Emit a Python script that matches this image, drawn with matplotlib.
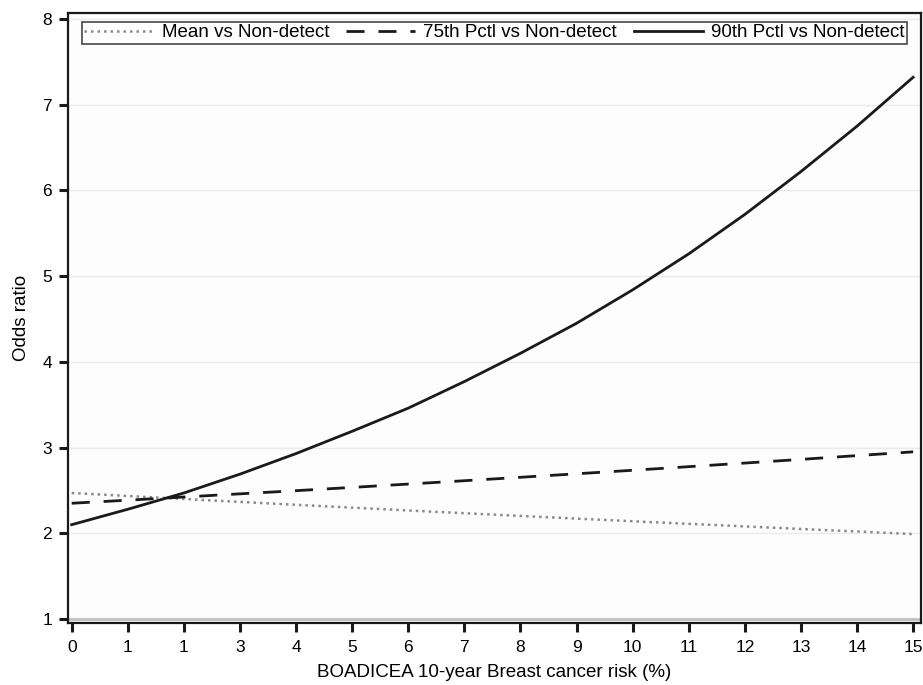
import matplotlib
matplotlib.use("Agg")
import matplotlib.pyplot as plt

plt.rcParams['font.family'] = ['Liberation Sans', 'DejaVu Sans']

risk = [0, 1, 2, 3, 4, 5, 6, 7, 8, 9, 10, 11, 12, 13, 14, 15]
x_tick_labels = ["0", "1", "1", "3", "4", "5", "6", "7", "8", "9", "10", "11", "12", "13", "14", "15"]
mean_or = [2.47, 2.435, 2.40, 2.366, 2.332, 2.299, 2.266, 2.234, 2.202, 2.171, 2.140, 2.110, 2.080, 2.050, 2.021, 1.99]
p75_or = [2.35, 2.386, 2.423, 2.46, 2.497, 2.535, 2.574, 2.613, 2.653, 2.694, 2.735, 2.777, 2.819, 2.862, 2.906, 2.95]
p90_or = [2.10, 2.28, 2.47, 2.69, 2.93, 3.19, 3.46, 3.77, 4.10, 4.45, 4.84, 5.26, 5.72, 6.22, 6.75, 7.32]
series_labels = ["Mean vs Non-detect", "75th Pctl vs Non-detect", "90th Pctl vs Non-detect"]
y_ticks = [1, 2, 3, 4, 5, 6, 7, 8]

fig = plt.figure(figsize=(9.23, 6.85), dpi=100)
ax = fig.add_axes([68 / 923, 62 / 685, 853 / 923, 610 / 685])
ax.set_facecolor('#fdfdfd')

for y in y_ticks[1:]:
    ax.axhline(y, color='#ebebeb', lw=1.0, zorder=0)
ax.axhline(1, color='#c4c4c4', lw=2.2, zorder=0)

ax.plot(risk, mean_or, color='#8a8a8a', lw=1.8, linestyle=(0, (1, 1.6)), label=series_labels[0])
ax.plot(risk, p75_or, color='#1a1a1a', lw=2.0, linestyle=(0, (6.5, 5)), label=series_labels[1])
ax.plot(risk, p90_or, color='#1a1a1a', lw=2.0, linestyle='-', label=series_labels[2])

ax.set_xlim(-0.066, 15.14)
ax.set_ylim(0.953, 8.07)
ax.set_xticks(risk)
ax.set_xticklabels(x_tick_labels)
ax.set_yticks(y_ticks)
ax.tick_params(axis='both', direction='out', length=6.5, width=2.2, labelsize=12.5, color='#1a1a1a')
ax.tick_params(axis='x', pad=5.8)
ax.tick_params(axis='y', pad=5)
for s in ax.spines.values():
    s.set_linewidth(1.6)
    s.set_color('#1a1a1a')

ax.set_xlabel("BOADICEA 10-year Breast cancer risk (%)", fontsize=13.5)
ax.set_ylabel("Odds ratio", fontsize=13.5)
ax.xaxis.set_label_coords(0.5, -0.068)
ax.yaxis.set_label_coords(-0.0445, 0.5)

x0 = (82 - 68) / 853
x1 = (907 - 68) / 853
ytop = 1 - 9 / 610
yh = 24 / 610
leg = ax.legend(loc='upper left', ncol=3, bbox_to_anchor=(x0, ytop - yh, x1 - x0, yh), mode='expand',
                fontsize=13.5, frameon=True, fancybox=False, edgecolor='#1a1a1a', handlelength=3.7,
                columnspacing=0.7, handletextpad=0.43, borderpad=0.12, borderaxespad=0.0)
leg.get_frame().set_linewidth(1.2)

fig.savefig("out.png", dpi=100)
